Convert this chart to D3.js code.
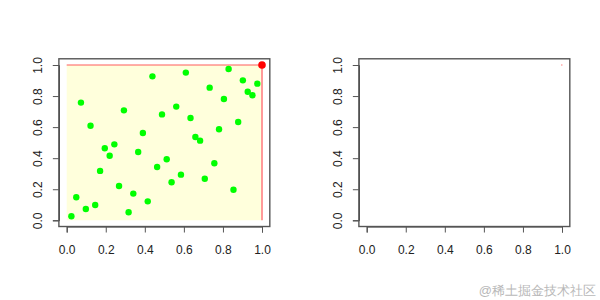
<!DOCTYPE html>
<html>
<head>
<meta charset="utf-8">
<script src="https://cdn.jsdelivr.net/npm/d3@7"></script>
<style>
  body { margin: 0; background: #fff; }
  text { font-family: "Liberation Sans", Arial, sans-serif; }
</style>
</head>
<body>
<svg id="chart" width="600" height="300"></svg>
<script>
// points
let xVals = [0.024, 0.049, 0.073, 0.098, 0.122, 0.146, 0.171, 0.195, 0.220, 0.244,
             0.268, 0.293, 0.317, 0.341, 0.366, 0.390, 0.415, 0.439, 0.463, 0.488,
             0.512, 0.537, 0.561, 0.585, 0.610, 0.634, 0.659, 0.683, 0.707, 0.732,
             0.756, 0.780, 0.805, 0.829, 0.854, 0.878, 0.902, 0.927, 0.951, 0.976];
let yVals = [0.026, 0.148, 0.758, 0.073, 0.609, 0.099, 0.318, 0.464, 0.416, 0.489,
             0.221, 0.708, 0.052, 0.172, 0.440, 0.562, 0.122, 0.927, 0.343, 0.682,
             0.393, 0.245, 0.732, 0.294, 0.951, 0.659, 0.536, 0.513, 0.268, 0.854,
             0.367, 0.586, 0.781, 0.974, 0.197, 0.633, 0.901, 0.828, 0.805, 0.880];
let corner = [1, 1];
let ticks = [0, 0.2, 0.4, 0.6, 0.8, 1.0];

let svg = d3.select("#chart");

let y = d3.scaleLinear().domain([0, 1]).range([220.3, 65]);

function panel(left, right) {
    let x = d3.scaleLinear().domain([0, 1]).range([left, right]);
    let g = svg.append("g");

    let xAxis = d3.axisBottom(x)
        .tickValues(ticks)
        .tickFormat(d3.format(".1f"))
        .tickSizeOuter(0)
        .tickSize(6)
        .tickPadding(13);
    let yAxis = d3.axisLeft(y)
        .tickValues(ticks)
        .tickFormat(d3.format(".1f"))
        .tickSizeOuter(0)
        .tickSize(6);

    let gx = g.append("g")
        .attr("transform", "translate(0," + y(-0.04) + ")")
        .call(xAxis);
    let gy = g.append("g")
        .attr("transform", "translate(" + x(-0.04) + ",0)")
        .call(yAxis);

    [gx, gy].forEach(a => {
        a.select(".domain").attr("stroke", "#333");
        a.selectAll(".tick line").attr("stroke", "#555");
        a.selectAll("text").attr("font-size", 12).attr("fill", "#222")
            .attr("font-family", "'Liberation Sans', Arial, sans-serif");
    });
    gy.selectAll(".tick text")
        .attr("x", 0)
        .attr("dy", "0.35em")
        .attr("text-anchor", "middle")
        .attr("transform", "translate(-21,0) rotate(-90)");

    return {g: g, x: x};
}

function box(p) {
    p.g.append("rect")
        .attr("x", p.x(-0.04))
        .attr("y", y(1.04))
        .attr("width", p.x(1.04) - p.x(-0.04))
        .attr("height", y(-0.04) - y(1.04))
        .attr("fill", "none")
        .attr("stroke", "#555")
        .attr("stroke-width", 1.4);
}

// left panel
let p1 = panel(66.7, 262);

p1.g.insert("rect", ":first-child")
    .attr("x", p1.x(0))
    .attr("y", y(1))
    .attr("width", p1.x(1) - p1.x(0))
    .attr("height", y(0) - y(1))
    .attr("fill", "#ffffdc");

p1.g.append("line")
    .attr("x1", p1.x(0)).attr("y1", y(corner[1]))
    .attr("x2", p1.x(corner[0])).attr("y2", y(corner[1]))
    .attr("stroke", "#ff5a5a")
    .attr("stroke-width", 1);
p1.g.append("line")
    .attr("x1", p1.x(corner[0])).attr("y1", y(0))
    .attr("x2", p1.x(corner[0])).attr("y2", y(corner[1]))
    .attr("stroke", "#ff9a9a")
    .attr("stroke-width", 2);

p1.g.selectAll("circle.pt")
    .data(xVals)
    .enter()
    .append("circle")
    .attr("class", "pt")
    .attr("cx", d => p1.x(d))
    .attr("cy", (d, i) => y(yVals[i]))
    .attr("r", 3.2)
    .attr("fill", "#00ff00");

p1.g.append("circle")
    .attr("cx", p1.x(corner[0]))
    .attr("cy", y(corner[1]))
    .attr("r", 3.8)
    .attr("fill", "#ff0000");

box(p1);

// right panel: empty, only a speck at the corner
let p2 = panel(366.7, 562);
p2.g.append("rect")
    .attr("x", p2.x(corner[0]) - 1)
    .attr("y", y(corner[1]) - 0.5)
    .attr("width", 1.5)
    .attr("height", 1)
    .attr("fill", "#ff8080");
box(p2);

svg.append("text")
    .attr("x", 596)
    .attr("y", 295)
    .attr("text-anchor", "end")
    .attr("font-size", 13)
    .attr("fill", "#b8b8b8")
    .attr("font-family", "'Noto Sans CJK SC', sans-serif")
    .text("@稀土掘金技术社区");
</script>
</body>
</html>
